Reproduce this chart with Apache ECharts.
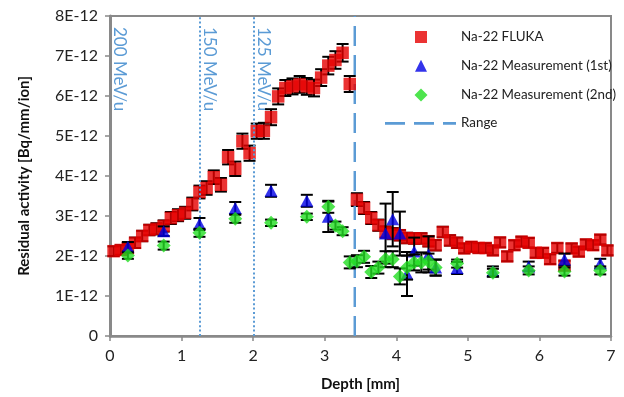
<!DOCTYPE html>
<html>
<head>
<meta charset="utf-8">
<script src="https://cdn.jsdelivr.net/npm/echarts@6/dist/echarts.min.js"></script>
<style>
  html, body { margin: 0; padding: 0; background: #fff; }
  #chart { width: 624px; height: 397px; }
</style>
</head>
<body>
<div id="chart"></div>
<script>
// activity values are in units of 1E-12 Bq/mm/ion
const flukaDepth = [0.05, 0.15, 0.25, 0.35, 0.45, 0.55, 0.65, 0.75, 0.85, 0.95,
  1.05, 1.15, 1.25, 1.35, 1.45, 1.55, 1.65, 1.75, 1.85, 1.95,
  2.05, 2.15, 2.25, 2.35, 2.45, 2.55, 2.65, 2.75, 2.85, 2.95,
  3.05, 3.15, 3.25, 3.35, 3.45, 3.55, 3.65, 3.75, 3.85, 3.95,
  4.05, 4.15, 4.25, 4.35, 4.45, 4.55, 4.65, 4.75, 4.85, 4.95,
  5.05, 5.15, 5.25, 5.35, 5.45, 5.55, 5.65, 5.75, 5.85, 5.95,
  6.05, 6.15, 6.25, 6.35, 6.45, 6.55, 6.65, 6.75, 6.85, 6.95];
const flukaActivity = [2.12, 2.15, 2.2, 2.33, 2.5, 2.65, 2.68, 2.75, 2.95, 3.02,
  3.08, 3.3, 3.6, 3.7, 3.97, 3.78, 4.47, 4.18, 4.87, 4.57,
  5.12, 5.13, 5.47, 5.99, 6.2, 6.24, 6.29, 6.24, 6.2, 6.46,
  6.76, 6.9, 7.08, 6.3, 3.41, 3.2, 2.95, 2.77, 2.6, 2.56,
  2.52, 2.45, 2.44, 2.44, 2.37, 2.27, 2.6, 2.39, 2.33, 2.19,
  2.23, 2.2, 2.2, 2.14, 2.34, 1.99, 2.27, 2.36, 2.33, 2.08,
  2.08, 1.92, 2.2, 1.76, 2.19, 2.11, 2.29, 2.27, 2.41, 2.14];
const flukaError = [0.12, 0.12, 0.12, 0.13, 0.13, 0.13, 0.14, 0.14, 0.15, 0.15,
  0.15, 0.16, 0.16, 0.17, 0.17, 0.17, 0.18, 0.18, 0.19, 0.19,
  0.19, 0.2, 0.2, 0.2, 0.2, 0.2, 0.21, 0.21, 0.21, 0.21,
  0.22, 0.22, 0.22, 0.2, 0.16, 0.15, 0.15, 0.14, 0.14, 0.14,
  0.13, 0.13, 0.13, 0.13, 0.13, 0.13, 0.13, 0.13, 0.13, 0.12,
  0.12, 0.12, 0.12, 0.12, 0.12, 0.12, 0.12, 0.12, 0.12, 0.12,
  0.12, 0.12, 0.12, 0.12, 0.12, 0.12, 0.12, 0.12, 0.12, 0.12];

const firstDepth = [0.25, 0.75, 1.25, 1.75, 2.25, 2.75, 3.05, 3.85, 3.95, 4.05,
  4.15, 4.25, 4.45, 4.55, 4.85, 5.35, 5.85, 6.35, 6.85];
const firstActivity = [2.23, 2.62, 2.8, 3.2, 3.63, 3.38, 2.98, 2.56, 2.92, 2.56,
  1.55, 2.11, 2.04, 1.71, 1.7, 1.62, 1.74, 1.91, 1.81];
const firstError = [0.12, 0.12, 0.15, 0.15, 0.15, 0.15, 0.38, 0.75, 0.68, 0.55,
  0.55, 0.35, 0.45, 0.2, 0.15, 0.12, 0.12, 0.15, 0.12];

const secondDepth = [0.25, 0.75, 1.25, 1.75, 2.25, 2.75, 3.05, 3.15, 3.25, 3.35,
  3.45, 3.55, 3.65, 3.75, 3.85, 3.95, 4.05, 4.15, 4.25, 4.35,
  4.45, 4.55, 4.85, 5.35, 5.85, 6.35, 6.85];
const secondActivity = [2.01, 2.26, 2.58, 2.93, 2.83, 2.98, 3.23, 2.76, 2.62, 1.84,
  1.87, 1.98, 1.6, 1.71, 1.92, 1.92, 1.49, 1.71, 1.84, 1.84,
  1.86, 1.71, 1.81, 1.58, 1.64, 1.61, 1.64];
const secondError = [0.08, 0.1, 0.1, 0.1, 0.08, 0.08, 0.15, 0.1, 0.1, 0.15,
  0.15, 0.15, 0.15, 0.15, 0.2, 0.2, 0.2, 0.3, 0.2, 0.25,
  0.2, 0.2, 0.1, 0.1, 0.1, 0.1, 0.1];

const energyLines = [
  { depth: 0, label: '200 MeV/u' },
  { depth: 1.26, label: '150 MeV/u' },
  { depth: 2.01, label: '125 MeV/u' }
];
const rangeDepth = 3.42;

const yTicks = [0, 1, 2, 3, 4, 5, 6, 7, 8];
const xTicks = [0, 1, 2, 3, 4, 5, 6, 7];

const FONT = 'Lato, "Open Sans", sans-serif';
const BLUE_LINE = '#5B9BD5';
const AXIS_GREY = '#898989';

const pairs = (xs, ys) => xs.map((x, i) => [x, ys[i]]);

function errorBars(xs, ys, errs, z) {
  return {
    type: 'custom',
    z: z,
    silent: true,
    data: xs.map((x, i) => [x, ys[i] - errs[i], ys[i] + errs[i]]),
    encode: { x: 0, y: [1, 2] },
    renderItem: (params, api) => {
      const top = api.coord([api.value(0), api.value(2)]);
      const bot = api.coord([api.value(0), api.value(1)]);
      const w = 6;
      const style = { stroke: '#000', lineWidth: 2 };
      return {
        type: 'group',
        children: [
          { type: 'line', shape: { x1: top[0], y1: top[1], x2: bot[0], y2: bot[1] }, style },
          { type: 'line', shape: { x1: top[0] - w, y1: top[1], x2: top[0] + w, y2: top[1] }, style },
          { type: 'line', shape: { x1: bot[0] - w, y1: bot[1], x2: bot[0] + w, y2: bot[1] }, style }
        ]
      };
    }
  };
}

// legend icons span the full 71x14 item box so the markers sit centred like the original
const iconSquare = 'path://M0,0h0.05v0.05h-0.05zM30,1h12v12h-12zM70.95,13.95h0.05v0.05h-0.05z';
const iconTriangle = 'path://M0,0h0.05v0.05h-0.05zM36,1L42,13L30,13zM70.95,13.95h0.05v0.05h-0.05z';
const iconDiamond = 'path://M0,0h0.05v0.05h-0.05zM36,1L42.5,7.5L36,14L29.5,7.5zM70.95,13.95h0.05v0.05h-0.05z';
const iconDash = 'path://M0,0h0.05v0.05h-0.05zM0,6h20v2.6h-20zM29,6h20v2.6h-20zM58,6h13v2.6h-13zM70.95,13.95h0.05v0.05h-0.05z';

const chart = echarts.init(document.getElementById('chart'));

chart.setOption({
  animation: false,
  textStyle: { fontFamily: FONT },
  grid: {
    left: 110, right: 13, top: 16, bottom: 59,
    show: true, borderColor: AXIS_GREY, borderWidth: 2
  },
  legend: {
    orient: 'vertical',
    left: 380,
    top: 25,
    itemWidth: 71,
    itemHeight: 14,
    itemGap: 14.7,
    selectedMode: false,
    textStyle: { fontFamily: FONT, fontSize: 13.4, color: '#222' },
    data: [
      { name: 'Na-22 FLUKA', icon: iconSquare },
      { name: 'Na-22 Measurement (1st)', icon: iconTriangle },
      { name: 'Na-22 Measurement (2nd)', icon: iconDiamond },
      { name: 'Range', icon: iconDash }
    ]
  },
  xAxis: {
    type: 'value',
    min: xTicks[0],
    max: xTicks[xTicks.length - 1],
    interval: 1,
    name: 'Depth [mm]',
    nameLocation: 'middle',
    nameGap: 41,
    nameTextStyle: { fontFamily: FONT, fontWeight: 'bold', fontSize: 15, color: '#111' },
    axisLine: { lineStyle: { color: AXIS_GREY, width: 2.5 } },
    axisTick: { length: 5, lineStyle: { color: AXIS_GREY, width: 1.5 } },
    axisLabel: { fontFamily: FONT, fontSize: 16, color: '#222', margin: 12 },
    splitLine: { show: false }
  },
  yAxis: {
    type: 'value',
    min: yTicks[0],
    max: yTicks[yTicks.length - 1],
    interval: 1,
    name: 'Residual activity [Bq/mm/ion]',
    nameLocation: 'middle',
    nameGap: 78,
    nameTextStyle: { fontFamily: FONT, fontWeight: 'bold', fontSize: 15, color: '#111' },
    axisLine: { show: true, lineStyle: { color: AXIS_GREY, width: 3 } },
    axisTick: { show: true, length: 5, lineStyle: { color: AXIS_GREY, width: 1.5 } },
    axisLabel: {
      fontFamily: FONT, fontSize: 16, color: '#222', margin: 12,
      formatter: (v) => (v === 0 ? '0' : v + 'E-12')
    },
    splitLine: { show: false }
  },
  series: [
    {
      type: 'line',
      name: 'energy',
      silent: true,
      symbol: 'none',
      data: [],
      markLine: {
        silent: true,
        symbol: 'none',
        label: { show: false },
        lineStyle: { color: BLUE_LINE, type: [2, 2.4], width: 2 },
        data: energyLines.filter((e) => e.depth > 0).map((e) => ({ xAxis: e.depth }))
      }
    },
    {
      type: 'line',
      name: 'Range',
      silent: true,
      symbol: 'none',
      color: BLUE_LINE,
      lineStyle: { color: BLUE_LINE, type: [20, 9], width: 2.5 },
      data: [[rangeDepth, yTicks[0]], [rangeDepth, yTicks[yTicks.length - 1]]]
    },
    errorBars(flukaDepth, flukaActivity, flukaError, 3),
    {
      type: 'scatter',
      name: 'Na-22 FLUKA',
      z: 4,
      symbol: 'rect',
      symbolSize: 12.5,
      itemStyle: { color: '#E60000' },
      data: pairs(flukaDepth, flukaActivity)
    },
    errorBars(firstDepth, firstActivity, firstError, 5),
    {
      type: 'scatter',
      name: 'Na-22 Measurement (1st)',
      z: 6,
      symbol: 'triangle',
      symbolSize: [13, 12],
      itemStyle: { color: '#0000E6' },
      data: pairs(firstDepth, firstActivity)
    },
    errorBars(secondDepth, secondActivity, secondError, 7),
    {
      type: 'scatter',
      name: 'Na-22 Measurement (2nd)',
      z: 8,
      symbol: 'diamond',
      symbolSize: 14,
      itemStyle: { color: '#22DD22' },
      data: pairs(secondDepth, secondActivity)
    }
  ]
});

// vertical energy labels, placed from the axis scale
const topY = chart.convertToPixel({ yAxisIndex: 0 }, yTicks[yTicks.length - 1]);
chart.setOption({
  graphic: energyLines.map((e) => ({
    type: 'text',
    x: chart.convertToPixel({ xAxisIndex: 0 }, e.depth) + 1,
    y: topY + 11,
    rotation: -Math.PI / 2,
    silent: true,
    style: {
      text: e.label,
      fill: BLUE_LINE,
      font: '17px ' + FONT,
      align: 'left',
      verticalAlign: 'bottom'
    }
  }))
});
</script>
</body>
</html>
